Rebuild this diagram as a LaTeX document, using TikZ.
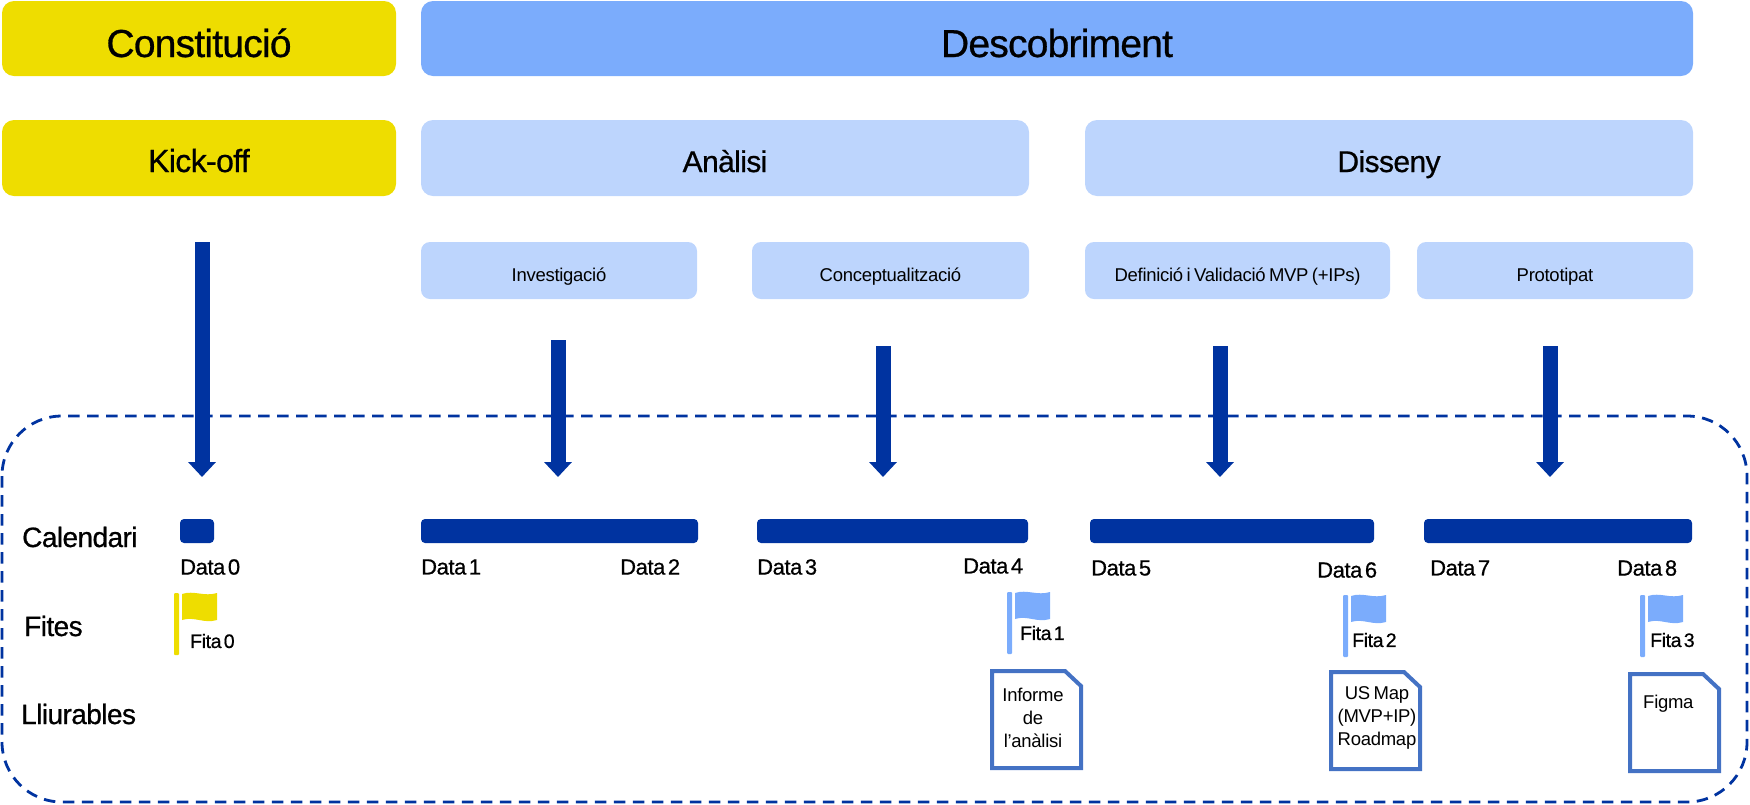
\documentclass[tikz,border=0pt]{standalone}
\usepackage{fontspec}
\setmainfont{Liberation Sans}[LetterSpace=-1.5,WordSpace=0.7]
\newfontfamily\medfont{Liberation Sans}[FakeBold=0.7,LetterSpace=-2,WordSpace=0.45]
\usetikzlibrary{arrows.meta}
\definecolor{fitayellow}{HTML}{EEDD00}
\definecolor{fasestrong}{HTML}{7BACFC}
\definecolor{faselight}{HTML}{BDD5FD}
\definecolor{navyblue}{HTML}{0033A0}
\definecolor{docblue}{HTML}{4472C4}

\begin{document}
\begin{tikzpicture}[x=1pt,y=-1pt,
		box/.style={rounded corners=12pt,inner sep=0pt,align=center,text=black,text depth=0pt},
		topbox/.style={box,minimum height=75pt,text height=37pt,font=\medfont\fontsize{39}{42}\selectfont},
		midbox/.style={box,minimum height=76pt,text height=28pt,font=\medfont\fontsize{32}{35}\selectfont},
		smallbox/.style={rounded corners=9pt,inner sep=0pt,fill=faselight,minimum height=57pt,text height=21pt,text depth=0pt,font=\fontsize{18.5}{20}\selectfont},
		rowlabel/.style={anchor=west,inner sep=0pt,font=\medfont\fontsize{28}{30}\selectfont},
		datalabel/.style={anchor=west,inner sep=0pt,font=\medfont\fontsize{22}{24}\selectfont},
		fitalabel/.style={anchor=west,inner sep=0pt,font=\medfont\fontsize{19.5}{21}\selectfont},
		doclabel/.style={inner sep=0pt,align=center,font=\fontsize{18.5}{23}\selectfont},
		bar/.style={fill=navyblue,rounded corners=4pt,inner sep=0pt,minimum height=24pt},
		bigarrow/.style={draw=navyblue,line width=15pt,-{Triangle[width=27pt,length=15pt]}},
		pics/flagmark/.style={code={
			\fill[#1,rounded corners=1pt] (0,0) rectangle (5,62);
			\fill[#1] (8,1) .. controls +(12,-4) and +(-13,4) .. (43,0) -- (43,27) .. controls +(-13,4) and +(12,-4) .. (8,27) -- cycle;
		}},
		pics/docsheet/.style={code={
			\draw[docblue,line width=4pt,miter limit=4] (0,0) -- (73,0) -- (89,15) -- (89,97) -- (0,97) -- cycle;
		}}]
	\useasboundingbox (0,0) rectangle (1750,804);
	\draw[navyblue,line width=2.8pt,dash pattern=on 11.5pt off 7.5pt,rounded corners=60pt] (2,416) rectangle (1747,802);

	\node[topbox,fill=fitayellow,minimum width=394pt] (constitucio) at (199,38.5) {Constitució};
	\node[topbox,fill=fasestrong,minimum width=1272pt] (descobriment) at (1057,38.5) {Descobriment};
	\node[midbox,fill=fitayellow,minimum width=394pt] (kickoff) at (199,158) {Kick-off};
	\node[midbox,fill=faselight,minimum width=608pt,font=\medfont\fontsize{30}{33}\selectfont] (analisi) at (725,158) {Anàlisi};
	\node[midbox,fill=faselight,minimum width=608pt,font=\medfont\fontsize{30}{33}\selectfont] (disseny) at (1389,158) {Disseny};
	\node[smallbox,minimum width=276pt] (investigacio) at (559,270.5) {Investigació};
	\node[smallbox,minimum width=277pt] (concept) at (890.5,270.5) {Conceptualització};
	\node[smallbox,minimum width=305pt] (definicio) at (1237.5,270.5) {Definició i Validació MVP (+IPs)};
	\node[smallbox,minimum width=276pt] (prototipat) at (1555,270.5) {Prototipat};

	\coordinate (a0) at (202,242);
	\coordinate (b0) at (202,477);
	\coordinate (a1) at (558,340);
	\coordinate (b1) at (558,477);
	\coordinate (a2) at (883,346);
	\coordinate (b2) at (883,477);
	\coordinate (a3) at (1220,346);
	\coordinate (b3) at (1220,477);
	\coordinate (a4) at (1550,346);
	\coordinate (b4) at (1550,477);
	\draw[bigarrow] (a0) -- (b0);
	\draw[bigarrow] (a1) -- (b1);
	\draw[bigarrow] (a2) -- (b2);
	\draw[bigarrow] (a3) -- (b3);
	\draw[bigarrow] (a4) -- (b4);

	\node[rowlabel] (calendari) at (22,537) {Calendari};
	\node[rowlabel] (fites) at (24,626) {Fites};
	\node[rowlabel] (lliurables) at (21,714) {Lliurables};

	\node[bar,minimum width=34pt] (bar0) at (197,531) {};
	\node[bar,minimum width=277pt] (bar1) at (559.5,531) {};
	\node[bar,minimum width=271pt] (bar2) at (892.5,531) {};
	\node[bar,minimum width=284pt] (bar3) at (1232,531) {};
	\node[bar,minimum width=268pt] (bar4) at (1558,531) {};

	\node[datalabel] (data0) at (180,567) {Data 0};
	\node[datalabel] (data1) at (421,567) {Data 1};
	\node[datalabel] (data2) at (620,567) {Data 2};
	\node[datalabel] (data3) at (757,567) {Data 3};
	\node[datalabel] (data4) at (963,566) {Data 4};
	\node[datalabel] (data5) at (1091,568) {Data 5};
	\node[datalabel] (data6) at (1317,570) {Data 6};
	\node[datalabel] (data7) at (1430,568) {Data 7};
	\node[datalabel] (data8) at (1617,568) {Data 8};

	\pic at (174,593) {flagmark=fitayellow};
	\pic at (1007,592) {flagmark=fasestrong};
	\pic at (1343,595) {flagmark=fasestrong};
	\pic at (1640,595) {flagmark=fasestrong};
	\node[fitalabel] (fita0) at (190,641) {Fita 0};
	\node[fitalabel] (fita1) at (1020,633) {Fita 1};
	\node[fitalabel] (fita2) at (1352,640) {Fita 2};
	\node[fitalabel] (fita3) at (1650,640) {Fita 3};

	\pic at (992,671) {docsheet};
	\pic at (1331,672) {docsheet};
	\pic at (1630,674) {docsheet};
	\node[doclabel] (informe) at (1033,718) {Informe\\de\\l’anàlisi};
	\node[doclabel] (usmap) at (1377,718) {US Map\\(MVP+IP)\\Roadmap};
	\node[doclabel,anchor=west] (figma) at (1643,704) {Figma};
\end{tikzpicture}
\end{document}
